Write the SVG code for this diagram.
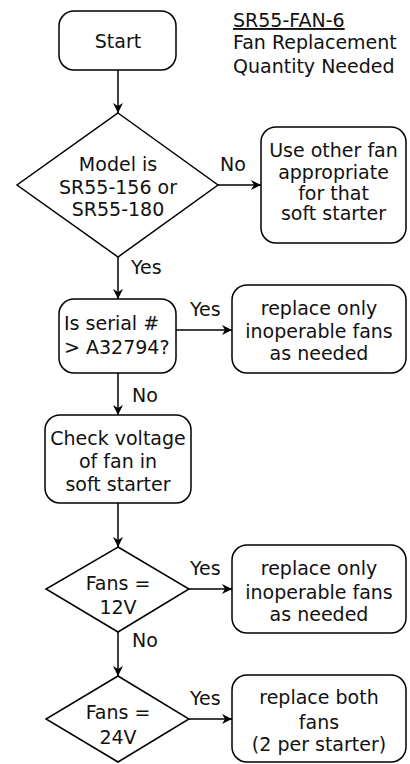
<svg xmlns="http://www.w3.org/2000/svg" width="410" height="764" viewBox="0 0 410 764">
<style>
.n{fill:#fff;stroke:#000;stroke-width:1.5}
.c{fill:none;stroke:#000;stroke-width:1.5}
text{font-family:"DejaVu Sans",Verdana,sans-serif;font-size:19px;fill:#111}
.m{text-anchor:middle}
</style>
<defs>
<marker id="a" viewBox="0 0 10 10" refX="10" refY="5" markerWidth="10" markerHeight="10" markerUnits="userSpaceOnUse" orient="auto">
<path d="M0,0 L10,5 L0,10 L3,5 Z" fill="#000"/>
</marker>
</defs>
<g id="title">
<text x="233" y="27" text-decoration="underline">SR55-FAN-6</text>
<text x="233" y="49">Fan Replacement</text>
<text x="233" y="73">Quantity Needed</text>
</g>
<g id="connectors">
<path class="c" d="M118,70 V113" marker-end="url(#a)"/>
<path class="c" d="M218,185 H261" marker-end="url(#a)"/>
<text x="220" y="171">No</text>
<path class="c" d="M118,257 V299" marker-end="url(#a)"/>
<text x="131" y="274">Yes</text>
<path class="c" d="M176,330 H232" marker-end="url(#a)"/>
<text x="190" y="316">Yes</text>
<path class="c" d="M118,373 V415" marker-end="url(#a)"/>
<text x="132" y="402">No</text>
<path class="c" d="M118,503 V547" marker-end="url(#a)"/>
<path class="c" d="M189,589 H232" marker-end="url(#a)"/>
<text x="190" y="575">Yes</text>
<path class="c" d="M118,632 V676" marker-end="url(#a)"/>
<text x="132" y="647">No</text>
<path class="c" d="M189,719 H232" marker-end="url(#a)"/>
<text x="190" y="705">Yes</text>
</g>
<g id="start">
<rect class="n" x="59" y="11" width="117" height="59" rx="15"/>
<text class="m" x="118" y="48">Start</text>
</g>
<g id="model">
<path class="n" d="M118,113 L218,185 L118,257 L17,185 Z"/>
<text class="m" x="118" y="171">Model is</text>
<text class="m" x="118" y="194">SR55-156 or</text>
<text class="m" x="118" y="216">SR55-180</text>
</g>
<g id="other">
<rect class="n" x="261" y="127" width="145" height="116" rx="15"/>
<text class="m" x="333.5" y="157">Use other fan</text>
<text class="m" x="333.5" y="179">appropriate</text>
<text class="m" x="333.5" y="200">for that</text>
<text class="m" x="333.5" y="220">soft starter</text>
</g>
<g id="serial">
<rect class="n" x="59" y="299" width="117" height="74" rx="15"/>
<text x="64" y="330">Is serial #</text>
<text x="64" y="354">&gt; A32794?</text>
</g>
<g id="replace1">
<rect class="n" x="232" y="285" width="174" height="88" rx="15"/>
<text class="m" x="319" y="315">replace only</text>
<text class="m" x="319" y="338">inoperable fans</text>
<text class="m" x="319" y="360">as needed</text>
</g>
<g id="check">
<rect class="n" x="45" y="415" width="146" height="88" rx="15"/>
<text class="m" x="118" y="445">Check voltage</text>
<text class="m" x="118" y="468">of fan in</text>
<text class="m" x="118" y="491">soft starter</text>
</g>
<g id="fans12">
<path class="n" d="M118,547 L189,589 L118,632 L46,589 Z"/>
<text class="m" x="118" y="590">Fans =</text>
<text class="m" x="118" y="614">12V</text>
</g>
<g id="replace2">
<rect class="n" x="232" y="545" width="174" height="88" rx="15"/>
<text class="m" x="319" y="575">replace only</text>
<text class="m" x="319" y="599">inoperable fans</text>
<text class="m" x="319" y="621">as needed</text>
</g>
<g id="fans24">
<path class="n" d="M118,676 L189,719 L118,762 L46,719 Z"/>
<text class="m" x="118" y="719">Fans =</text>
<text class="m" x="118" y="744">24V</text>
</g>
<g id="replace3">
<rect class="n" x="232" y="675" width="174" height="87" rx="15"/>
<text class="m" x="319" y="704">replace both</text>
<text class="m" x="319" y="729">fans</text>
<text class="m" x="319" y="751">(2 per starter)</text>
</g>
</svg>
